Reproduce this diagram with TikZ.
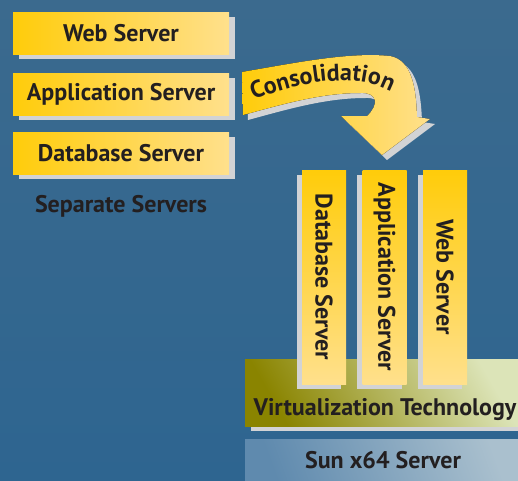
\documentclass[tikz,border=0pt]{standalone}
\usepackage{graphicx}
\usepackage{fontspec}
\setmainfont{PT Sans}
\usetikzlibrary{positioning,calc,decorations.text,backgrounds}
\pgfdeclarelayer{front}
\pgfsetlayers{background,main,front}

\definecolor{bgtop}{HTML}{3B6A8E}
\definecolor{bgbot}{HTML}{2E6590}
\definecolor{boxdeep}{HTML}{FFCC0A}
\definecolor{boxpale}{HTML}{FFE08C}
\definecolor{shadowgray}{HTML}{D2D3D5}
\definecolor{inkdark}{HTML}{231F20}
\definecolor{virtdark}{HTML}{8A8400}
\definecolor{virtmid}{HTML}{BFC07A}
\definecolor{virtpale}{HTML}{DCE4B8}
\definecolor{sunleft}{HTML}{5F8AAE}
\definecolor{sunright}{HTML}{AAC0CE}

\newcommand{\srvfont}{\bfseries\fontsize{24}{26}\selectfont}
\newcommand{\downtext}[1]{\rotatebox{-90}{#1}}
% outline of the bent arrow, pixel units
\newcommand{\consolpath}{(242,72) .. controls (300,62) and (350,52) .. (390,56)
  .. controls (412,60) and (416,88) .. (417,117) -- (430,119) -- (382,155)
  -- (341,116) -- (367,116) .. controls (379,105) and (378,92) .. (360,93)
  .. controls (320,93) and (280,105) .. (243,115) -- cycle}

\tikzset{
  srvbox/.style={minimum width=216pt, minimum height=42pt, inner sep=0pt,
    left color=boxdeep, right color=boxpale, font=\srvfont, text=inkdark},
  upbox/.style={minimum width=44pt, minimum height=214pt, inner sep=0pt,
    top color=boxdeep, bottom color=boxpale, font=\srvfont, text=inkdark},
  lbl/.style={font=\srvfont, text=inkdark, inner sep=0pt},
  shade/.style={fill=shadowgray}
}

\begin{document}
\begin{tikzpicture}[x=1pt,y=-1pt]
  \useasboundingbox (0,0) rectangle (518,480);
  \begin{scope}[on background layer]
    \fill[top color=bgtop, bottom color=bgbot] (0,0) rectangle (518,480);
  \end{scope}

  % separate servers
  \node[srvbox] (web) at (121,33) {Web Server};
  \node[srvbox] (app) at (121,94) {Application Server};
  \node[srvbox] (db) at (121,153) {Database Server};
  \node[lbl] (sep) at (121,206) {Separate Servers};

  % consolidation arrow
  \fill[shade] [shift={(5,5)}] \consolpath;
  \fill[left color=boxdeep, right color=boxpale] \consolpath;
  \path[decorate, decoration={text along path, text align=center,
    text={|\srvfont\color{inkdark}|Consolidation}}]
    (246,103) .. controls (300,80) and (360,70) .. (398,96);

  % stack on one server
  \node[minimum width=276pt, minimum height=67pt, inner sep=0pt,
    left color=virtdark, middle color=virtmid, right color=virtpale,
    shading angle=120] (virt) at (383,392.5) {};
  \node[lbl, anchor=base] (virttxt) at (385,415) {Virtualization Technology};
  \node[minimum width=276pt, minimum height=43pt, inner sep=0pt,
    left color=sunleft, right color=sunright, shading angle=110,
    font=\srvfont, text=inkdark] (sun) at (383,460.5) {Sun x64 Server};

  \begin{pgfonlayer}{front}
    \node[upbox] (dbv) at (324,277) {\downtext{Database Server}};
    \node[upbox] (appv) at (384.5,277) {\downtext{Application Server}};
    \node[upbox] (webv) at (445,277) {\downtext{Web Server}};
  \end{pgfonlayer}

  % shadows
  \foreach \n in {dbv,appv,webv}
    \fill[shade] ($(\n.north west)+(-5,5)$) rectangle ($(\n.south east)+(-5,5)$);
  \begin{scope}[on background layer]
    \foreach \n in {web,app,db,virt}
      \fill[shade] ($(\n.north west)+(6,5)$) rectangle ($(\n.south east)+(6,5)$);
  \end{scope}
\end{tikzpicture}
\end{document}
